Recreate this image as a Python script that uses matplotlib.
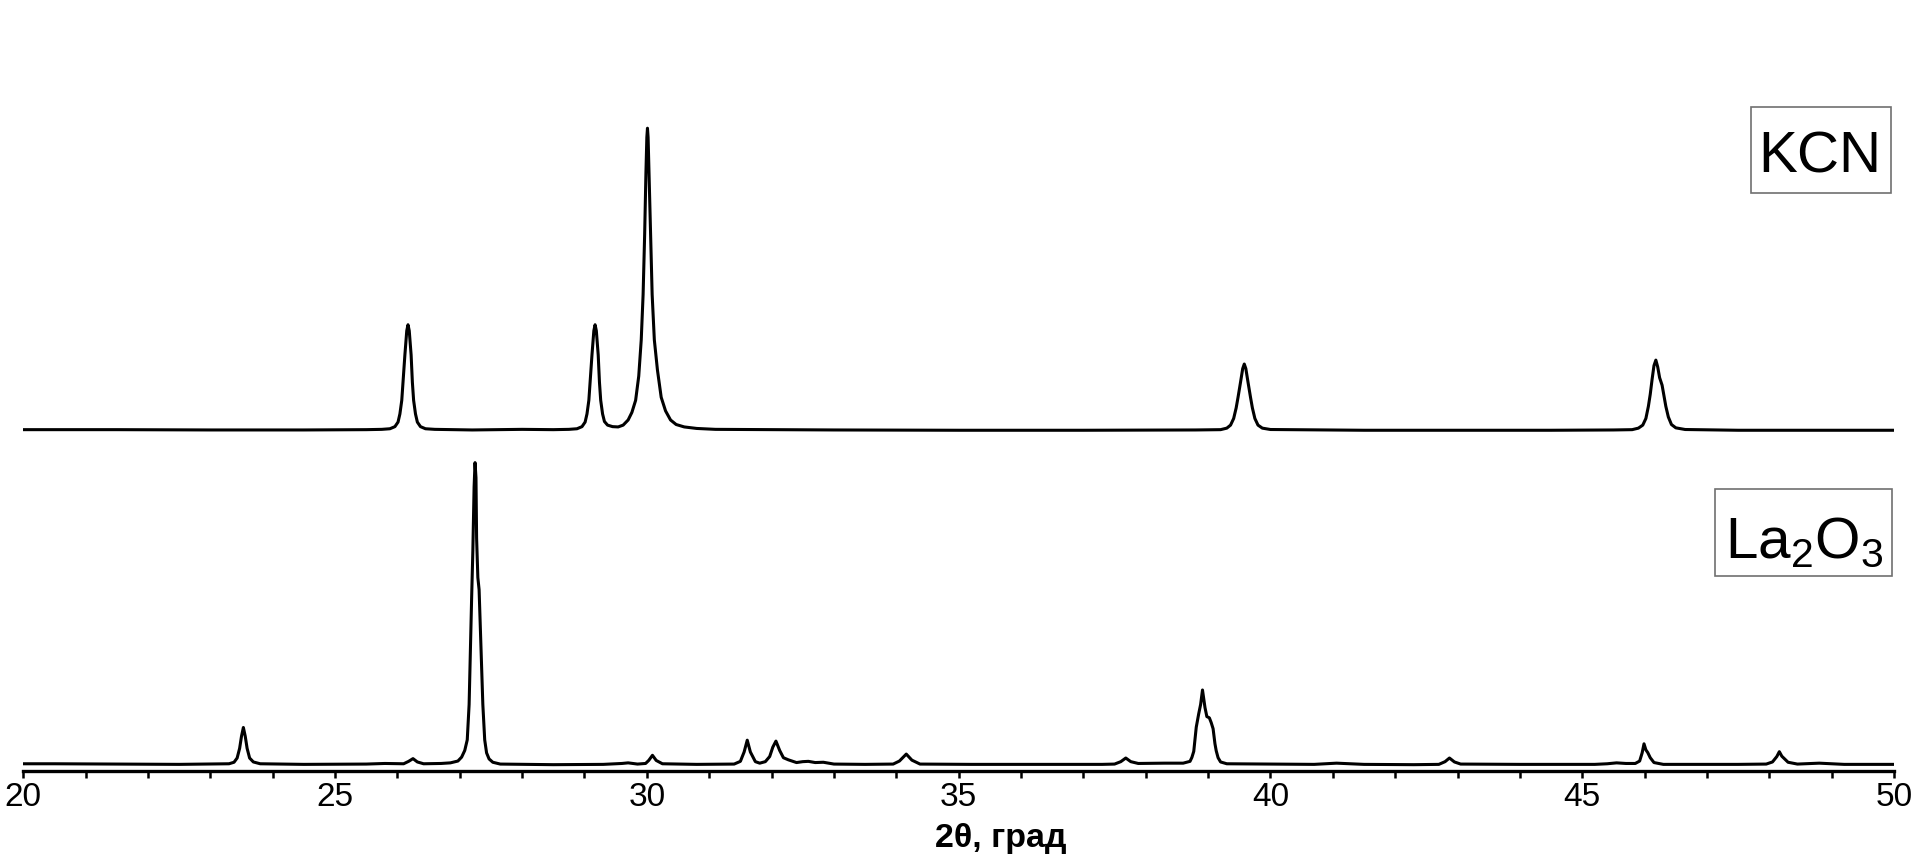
import numpy as np
import matplotlib
matplotlib.use('Agg')
import matplotlib.pyplot as plt
from matplotlib.ticker import MultipleLocator
from matplotlib.patches import Rectangle

plt.rcParams['font.family'] = ['Liberation Sans', 'DejaVu Sans']
plt.rcParams['mathtext.default'] = 'regular'

# (2theta, intensity in % of strongest peak)
kcn_points = [
    (20.0, 0.3), (21.5, 0.3), (23.0, 0.2), (24.5, 0.2), (25.5, 0.3),
    (25.75, 0.4), (25.88, 0.6), (25.96, 1.3), (26.01, 2.8), (26.04, 5.5),
    (26.07, 10), (26.09, 16), (26.12, 25), (26.15, 33), (26.17, 35),
    (26.19, 33), (26.22, 25), (26.24, 16), (26.26, 10), (26.29, 5.5),
    (26.32, 2.8), (26.37, 1.3), (26.45, 0.6), (26.6, 0.4), (27.2, 0.2),
    (28.0, 0.4), (28.5, 0.3), (28.75, 0.4), (28.88, 0.6), (28.96, 1.3),
    (29.01, 2.8), (29.04, 5.5), (29.07, 10), (29.09, 16), (29.12, 25),
    (29.15, 33), (29.17, 35), (29.19, 33), (29.22, 25), (29.24, 16),
    (29.26, 10), (29.29, 5.5), (29.32, 3), (29.37, 1.8), (29.45, 1.3),
    (29.54, 1.2), (29.62, 1.8), (29.70, 3.5), (29.76, 6), (29.82, 10),
    (29.87, 18), (29.91, 30), (29.94, 45), (29.965, 65), (29.985, 85),
    (30.00, 97), (30.01, 100), (30.02, 97), (30.035, 85), (30.06, 65),
    (30.085, 45), (30.12, 30), (30.17, 20), (30.23, 11), (30.30, 6.5),
    (30.38, 3.5), (30.47, 2), (30.6, 1.2), (30.8, 0.7), (31.1, 0.4),
    (33.0, 0.2), (35.0, 0.1), (37.0, 0.1), (38.8, 0.2), (39.20, 0.3),
    (39.30, 0.8), (39.36, 1.8), (39.41, 4), (39.45, 7.5), (39.48, 11),
    (39.52, 16), (39.555, 20.5), (39.58, 22), (39.605, 20.5), (39.64, 16),
    (39.68, 11), (39.71, 7.5), (39.75, 4), (39.80, 1.8), (39.87, 0.8),
    (40.0, 0.35), (41.5, 0.1), (43.0, 0.1), (44.5, 0.1), (45.5, 0.2),
    (45.80, 0.3), (45.90, 0.8), (45.97, 1.8), (46.02, 4), (46.06, 8),
    (46.09, 12), (46.12, 17), (46.15, 21.5), (46.18, 23.3), (46.21, 21),
    (46.24, 17.5), (46.28, 15), (46.31, 11.5), (46.34, 8), (46.38, 4.5),
    (46.43, 2), (46.50, 0.9), (46.65, 0.35), (47.5, 0.1), (49.0, 0.1),
    (50.0, 0.1),
]

la2o3_points = [
    (20.0, 0.4), (20.5, 0.4), (21.5, 0.3), (22.5, 0.2), (23.3, 0.4),
    (23.38, 0.9), (23.43, 2.3), (23.47, 5.5), (23.50, 9.5), (23.53, 12.4),
    (23.56, 9.5), (23.59, 5.5), (23.63, 2.3), (23.69, 1.0), (23.8, 0.4),
    (24.5, 0.2), (25.5, 0.3), (25.8, 0.5), (26.10, 0.4), (26.18, 1.2),
    (26.25, 2.1), (26.32, 1.0), (26.42, 0.4), (26.7, 0.5), (26.85, 0.7),
    (26.97, 1.3), (27.03, 2.6), (27.08, 4.8), (27.12, 8.3), (27.15, 20),
    (27.17, 38), (27.19, 55), (27.21, 71), (27.23, 92), (27.245, 100),
    (27.26, 95), (27.27, 75), (27.29, 62), (27.31, 58), (27.33, 45),
    (27.35, 32), (27.37, 20), (27.40, 8.3), (27.43, 4), (27.47, 2),
    (27.53, 0.9), (27.65, 0.3), (28.5, 0.1), (29.3, 0.2), (29.6, 0.5),
    (29.7, 0.7), (29.85, 0.3), (29.98, 0.5), (30.03, 1.5), (30.09, 3.2),
    (30.15, 1.5), (30.25, 0.4), (30.8, 0.2), (31.40, 0.3), (31.50, 1.2),
    (31.56, 4.3), (31.61, 8.2), (31.66, 4.3), (31.74, 1.1), (31.81, 0.6),
    (31.90, 1.1), (31.97, 2.8), (32.02, 5.9), (32.07, 7.9), (32.13, 4.8),
    (32.19, 2.4), (32.27, 1.7), (32.40, 0.8), (32.50, 1.1), (32.59, 1.2),
    (32.70, 0.8), (32.83, 0.9), (33.0, 0.3), (33.5, 0.2), (33.95, 0.3),
    (34.05, 1.3), (34.16, 3.6), (34.25, 1.6), (34.38, 0.3), (35.2, 0.2),
    (36.5, 0.2), (37.3, 0.2), (37.50, 0.3), (37.60, 1.1), (37.68, 2.3),
    (37.76, 1.1), (37.88, 0.5), (38.3, 0.6), (38.60, 0.6), (38.71, 1.2),
    (38.74, 2.5), (38.77, 4.5), (38.81, 12.5), (38.85, 17), (38.88, 20),
    (38.91, 24.8), (38.93, 22), (38.95, 19), (38.98, 16), (39.02, 15.6),
    (39.05, 14), (39.08, 12), (39.11, 7), (39.13, 4.7), (39.16, 2.4),
    (39.20, 1.0), (39.30, 0.4), (40.0, 0.3), (40.7, 0.2), (41.06, 0.6),
    (41.5, 0.2), (42.3, 0.1), (42.70, 0.2), (42.80, 1.1), (42.87, 2.3),
    (42.95, 1.0), (43.05, 0.3), (44.0, 0.2), (45.2, 0.2), (45.40, 0.4),
    (45.55, 0.7), (45.70, 0.5), (45.85, 0.5), (45.92, 1.3), (45.96, 4),
    (45.99, 7.0), (46.02, 5), (46.05, 4.1), (46.09, 2.4), (46.15, 0.8),
    (46.3, 0.2), (47.5, 0.2), (47.95, 0.3), (48.05, 1.0), (48.12, 2.8),
    (48.16, 4.4), (48.20, 2.9), (48.24, 2.1), (48.30, 0.9), (48.45, 0.3),
    (48.8, 0.6), (49.2, 0.2), (50.0, 0.2),
]

kcn_offset = 110.6   # vertical shift of the upper pattern
labels = ['KCN', 'La$_2$O$_3$']

kcn_tt, kcn_I = np.array(kcn_points).T
la_tt, la_I = np.array(la2o3_points).T

fig = plt.figure(figsize=(19.2, 8.61), dpi=100)
ax = fig.add_axes([0.0121, 0.1045, 0.9744, 0.8955])

ax.plot(kcn_tt, kcn_I + kcn_offset, color='black', lw=2.2, solid_joinstyle='round')
ax.plot(la_tt, la_I, color='black', lw=2.2, solid_joinstyle='round')

ax.set_xlim(20, 50)
ax.set_ylim(-2, 253)
for s in ['left', 'right', 'top']:
    ax.spines[s].set_visible(False)
ax.spines['bottom'].set_linewidth(2.4)
ax.set_yticks([])
ax.xaxis.set_major_locator(MultipleLocator(5))
ax.xaxis.set_minor_locator(MultipleLocator(1))
ax.tick_params(axis='x', which='both', direction='out', length=5, width=1.8,
               labelsize=24, pad=3)

ax.set_xlabel('2θ, град', fontsize=24.5, fontweight='bold')
ax.xaxis.set_label_coords(0.5226, -0.067)

# framed sample labels
fig.add_artist(Rectangle((0.91198, 0.77584), 0.07292, 0.09988, transform=fig.transFigure,
                         fill=False, ec='#707070', lw=1.2))
fig.add_artist(Rectangle((0.89323, 0.33101), 0.09219, 0.10105, transform=fig.transFigure,
                         fill=False, ec='#707070', lw=1.2))
fig.text(0.9477, 0.7991, labels[0], fontsize=42, ha='center', va='baseline')
fig.text(0.9398, 0.3519, labels[1], fontsize=42, ha='center', va='baseline')

fig.savefig('out.png', dpi=100)
